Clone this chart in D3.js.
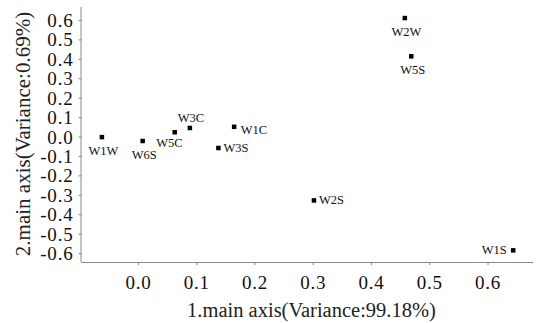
<!DOCTYPE html>
<html>
<head>
<meta charset="utf-8">
<script src="https://cdn.jsdelivr.net/npm/d3@7"></script>
<style>
  html, body { margin: 0; padding: 0; background: #fff; }
  svg { display: block; font-family: "Liberation Serif", "Times New Roman", serif; }
</style>
</head>
<body>
<svg id="chart" width="537" height="323"></svg>
<script>
const labels = ['W1W', 'W6S', 'W5C', 'W3C', 'W1C', 'W3S', 'W2W', 'W5S', 'W2S', 'W1S'];
const axis1 = [-0.062, 0.008, 0.063, 0.089, 0.165, 0.138, 0.458, 0.469, 0.302, 0.644];
const axis2 = [-0.003, -0.023, 0.022, 0.044, 0.050, -0.059, 0.610, 0.413, -0.329, -0.586];
// where each label sits relative to its point
const labelPos = ['below', 'below', 'belowleft', 'above', 'rightlow', 'right', 'below', 'below', 'right', 'left'];
const xTicks = [0.0, 0.1, 0.2, 0.3, 0.4, 0.5, 0.6];
const yTicks = [0.6, 0.5, 0.4, 0.3, 0.2, 0.1, 0.0, -0.1, -0.2, -0.3, -0.4, -0.5, -0.6];

const svg = d3.select('#chart');
const plotLeft = 81.5, plotRight = 533, plotTop = 7, plotBottom = 262;
const serif = '"Liberation Serif", "Times New Roman", serif';

const x = d3.scaleLinear().domain([-0.097, 0.678]).range([plotLeft, plotRight]);
const y = d3.scaleLinear().domain([-0.646, 0.6]).range([plotBottom, 20]);

const axisColor = '#888';

const xAxis = svg.append('g')
  .attr('transform', `translate(0,${plotBottom})`)
  .call(d3.axisBottom(x).tickValues(xTicks).tickFormat(d3.format('.1f')).tickSize(3).tickPadding(10.5));
xAxis.select('.domain').attr('d', `M${plotLeft},0.5H${plotRight}`);

const yAxis = svg.append('g')
  .attr('transform', `translate(${plotLeft},0)`)
  .call(d3.axisLeft(y).tickValues(yTicks).tickFormat(d3.format('.1f')).tickSize(3).tickPadding(5));
yAxis.select('.domain').attr('d', `M-0.5,${plotTop}V${plotBottom}`);

svg.selectAll('g').attr('font-family', serif);
svg.selectAll('.domain').attr('stroke', axisColor).attr('stroke-width', 1);
svg.selectAll('.tick line').attr('stroke', axisColor);
svg.selectAll('.tick text')
  .attr('fill', '#111')
  .attr('font-size', 19)
  .attr('letter-spacing', 0.8)
  .attr('font-family', serif);
yAxis.selectAll('.tick text').attr('dy', '0.34em').text((d) => d.toFixed(1));

svg.append('text')
  .attr('x', 311.5)
  .attr('y', 317)
  .attr('text-anchor', 'middle')
  .attr('font-size', 20.5)
  .attr('font-family', serif)
  .attr('fill', '#222')
  .text('1.main axis(Variance:99.18%)');

svg.append('text')
  .attr('transform', 'translate(30,134) rotate(-90)')
  .attr('text-anchor', 'middle')
  .attr('font-size', 21)
  .attr('font-family', serif)
  .attr('fill', '#222')
  .text('2.main axis(Variance:0.69%)');

const pts = labels.map((name, i) => ({ name, a: axis1[i], b: axis2[i], pos: labelPos[i] }));

svg.append('g')
  .selectAll('rect')
  .data(pts)
  .join('rect')
  .attr('x', (d) => x(d.a) - 2.25)
  .attr('y', (d) => y(d.b) - 2.25)
  .attr('width', 4.5)
  .attr('height', 4.5)
  .attr('fill', '#000');

const offsets = {
  below: { dx: 1.5, dy: 17.5, anchor: 'middle' },
  belowleft: { dx: 8, dy: 14.5, anchor: 'end' },
  above: { dx: 1, dy: -5.5, anchor: 'middle' },
  right: { dx: 5, dy: 4, anchor: 'start' },
  rightlow: { dx: 6.5, dy: 7.5, anchor: 'start' },
  left: { dx: -6.5, dy: 4, anchor: 'end' }
};

svg.append('g')
  .selectAll('text')
  .data(pts)
  .join('text')
  .attr('font-size', 12.5)
  .attr('font-family', serif)
  .attr('fill', '#111')
  .attr('text-anchor', (d) => offsets[d.pos].anchor)
  .attr('x', (d) => x(d.a) + offsets[d.pos].dx)
  .attr('y', (d) => y(d.b) + offsets[d.pos].dy)
  .text((d) => d.name);
</script>
</body>
</html>
